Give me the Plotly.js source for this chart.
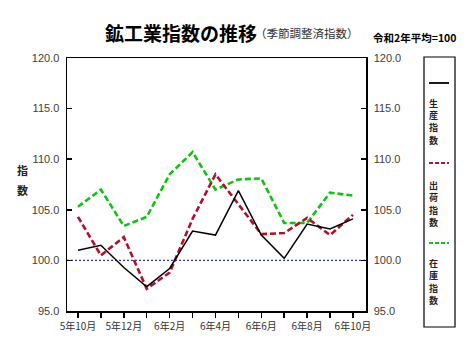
<!DOCTYPE html>
<html><head><meta charset="utf-8">
<script src="https://cdn.plot.ly/plotly-3.0.1.min.js"></script>
<style>html,body{margin:0;padding:0;background:#fff}#c{width:470px;height:356px}</style>
</head><body><div id="c"></div>
<script>
const months = ["5年10月","5年11月","5年12月","6年1月","6年2月","6年3月","6年4月","6年5月","6年6月","6年7月","6年8月","6年9月","6年10月"];
const production = [101.0,101.5,99.3,97.4,99.2,102.9,102.5,106.9,102.5,100.2,103.6,103.1,104.1];
const shipment   = [104.3,100.5,102.3,97.2,98.8,104.1,108.5,105.6,102.6,102.7,104.2,102.5,104.5];
const inventory  = [105.3,107.0,103.4,104.3,108.5,110.7,107.0,108.0,108.1,103.7,103.7,106.7,106.4];
const seriesNames = ["生産指数","出荷指数","在庫指数"];
const yTicks = [95,100,105,110,115,120];
const baseLevel = 100;

const tickText = months.map((m,i)=> i%2===0 ? m : "");
const numFont = {family:"Liberation Sans Narrow, Liberation Sans, Arial", size:11, color:"#404040"};
const jp = "Noto Sans CJK JP";
const W = 299, H = 253, L = 67, B = 311;
const px = x => (x-L)/W, py = y => (B-y)/H;

const traces = [
  {x:months, y:inventory, type:"scatter", mode:"lines", name:seriesNames[2], line:{color:"#11c211", width:2.6, dash:"6px,3px"}},
  {x:months, y:shipment, type:"scatter", mode:"lines", name:seriesNames[1], line:{color:"#b2102a", width:2.6, dash:"6px,3px"}},
  {x:months, y:production, type:"scatter", mode:"lines", name:seriesNames[0], line:{color:"#000", width:1.5}},
  {x:months, y:production, type:"scatter", mode:"lines", yaxis:"y2", showlegend:false, hoverinfo:"skip", opacity:0, line:{width:0}}
];

const annotations = [
  {xref:"paper", yref:"paper", x:px(181), y:py(33), text:"<b>鉱工業指数の推移</b>", showarrow:false, xanchor:"center", yanchor:"middle", font:{family:jp, size:19, color:"#000"}},
  {xref:"paper", yref:"paper", x:px(307), y:py(33), text:"（季節調整済指数）", showarrow:false, xanchor:"center", yanchor:"middle", font:{family:jp, size:11.5, color:"#333"}},
  {xref:"paper", yref:"paper", x:px(415), y:py(37), text:"<b>令和2年平均=100</b>", showarrow:false, xanchor:"center", yanchor:"middle", font:{family:jp, size:10.5, color:"#000"}},
  {xref:"paper", yref:"paper", x:px(22), y:py(170), text:"<b>指</b>", showarrow:false, xanchor:"center", yanchor:"middle", font:{family:jp, size:11, color:"#222"}},
  {xref:"paper", yref:"paper", x:px(22), y:py(190), text:"<b>数</b>", showarrow:false, xanchor:"center", yanchor:"middle", font:{family:jp, size:11, color:"#222"}}
];
const legendTop = [103, 185, 263];
seriesNames.forEach((n,k)=>{
  n.split("").forEach((ch,j)=>{
    annotations.push({xref:"paper", yref:"paper", x:px(433.5), y:py(legendTop[k]+j*12.5), text:"<b>"+ch+"</b>", showarrow:false,
      xanchor:"center", yanchor:"middle", borderpad:0, font:{family:jp, size:9, color:"#222"}});
  });
});

const layout = {
  width:470, height:356,
  margin:{l:67, r:104, t:58, b:45},
  paper_bgcolor:"#fff", plot_bgcolor:"#fff",
  showlegend:false,
  xaxis:{type:"category", range:[-0.48,12.57], tickmode:"array", tickvals:months, ticktext:tickText,
    ticks:"outside", ticklen:5, tickwidth:1.5, tickcolor:"#000", showline:true, linecolor:"#000", linewidth:1.5,
    mirror:true, showgrid:false, zeroline:false, tickangle:0,
    tickfont:{family:jp, size:10, color:"#333"}},
  yaxis:{range:[95,120], tickvals:yTicks, ticktext:yTicks.map(v=>v.toFixed(1)), ticks:"inside", ticklen:5, tickwidth:1.5,
    tickcolor:"#000", showline:true, linecolor:"#000", linewidth:1.5, showgrid:false, zeroline:false, tickfont:numFont, ticklabelstandoff:4},
  yaxis2:{range:[95,120], overlaying:"y", side:"right", tickvals:yTicks, ticktext:yTicks.map(v=>v.toFixed(1)), ticks:"inside", ticklen:5, tickwidth:1.5,
    tickcolor:"#000", showline:true, linecolor:"#000", linewidth:1.5, showgrid:false, zeroline:false, tickfont:numFont, ticklabelstandoff:4},
  shapes:[
    {type:"line", xref:"paper", x0:0, x1:1, yref:"y", y0:baseLevel, y1:baseLevel, line:{color:"#3333cc", width:1.2, dash:"2px,2px"}, layer:"below"},
    {type:"rect", xref:"paper", yref:"paper", x0:px(424), x1:px(455), y0:py(327), y1:py(57), line:{color:"#000", width:1.2}},
    {type:"line", xref:"paper", yref:"paper", x0:px(429), x1:px(449), y0:py(83), y1:py(83), line:{color:"#000", width:1.8}},
    {type:"line", xref:"paper", yref:"paper", x0:px(429), x1:px(449), y0:py(163), y1:py(163), line:{color:"#b2102a", width:2.2, dash:"4px,2px"}},
    {type:"line", xref:"paper", yref:"paper", x0:px(429), x1:px(449), y0:py(243), y1:py(243), line:{color:"#11c211", width:2.2, dash:"4px,2px"}}
  ],
  annotations:annotations
};
Plotly.newPlot("c", traces, layout, {staticPlot:true, displayModeBar:false});
</script></body></html>
